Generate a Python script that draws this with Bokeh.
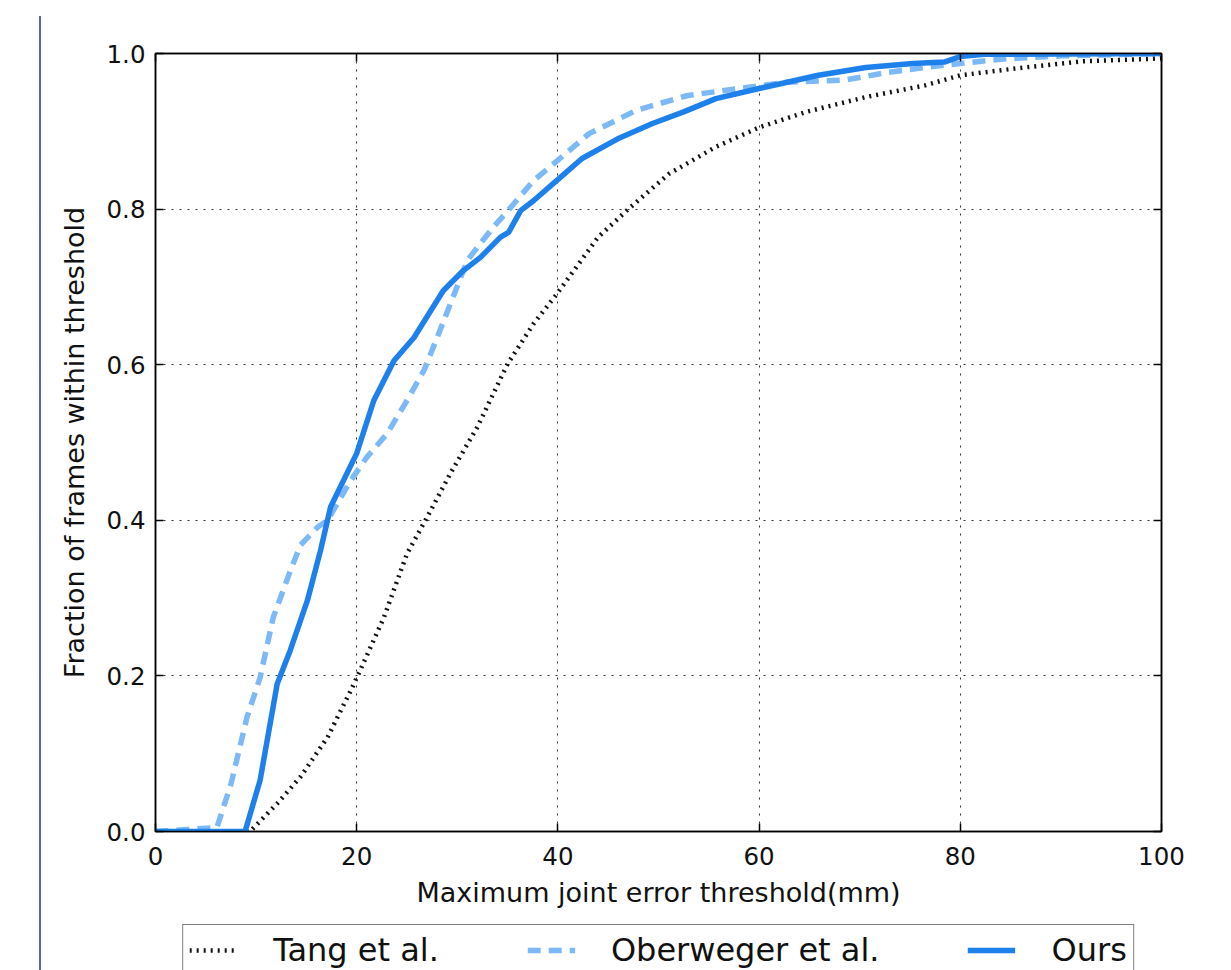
from bokeh.plotting import figure
from bokeh.models import (Legend, LegendItem, FixedTicker, LinearAxis, Div,
                          PrintfTickFormatter, CustomJSTickFormatter, Range1d)
from bokeh.layouts import row, column
from bokeh.embed import file_html
from bokeh.resources import INLINE

# ---- data ----
tang_x = [0, 9.4, 12.1, 14.4, 17.1, 19.4, 20.2, 22.7, 25.0, 27.0, 29.3, 32.0, 35.0,
          37.6, 39.9, 44.0, 47.0, 51.0, 55.7, 60.0, 64.7, 70.6, 76.5, 80.0, 86.3,
          92.2, 98.8, 100]
tang_y = [0, 0, 0.036, 0.07, 0.121, 0.181, 0.203, 0.275, 0.357, 0.404, 0.460, 0.520,
          0.601, 0.653, 0.691, 0.764, 0.800, 0.845, 0.880, 0.905, 0.925, 0.944,
          0.959, 0.972, 0.982, 0.990, 0.993, 0.994]

obe_x = [0, 6.1, 7.5, 9.1, 10.4, 11.7, 13.4, 14.4, 16.1, 17.1, 19.4, 21.0, 23.0,
         25.0, 26.7, 28.0, 29.7, 31.0, 32.0, 33.6, 35.3, 37.6, 39.2, 43.1, 47.8,
         52.9, 58.0, 62.7, 68.6, 72.9, 78.4, 84.3, 90.2, 100]
obe_y = [0, 0.005, 0.061, 0.147, 0.198, 0.275, 0.335, 0.368, 0.391, 0.40, 0.451,
         0.481, 0.511, 0.554, 0.593, 0.635, 0.691, 0.734, 0.751, 0.777, 0.802,
         0.837, 0.854, 0.897, 0.927, 0.946, 0.955, 0.963, 0.966, 0.976, 0.985,
         0.993, 0.997, 1.0]

ours_x = [0, 8.9, 10.4, 12.1, 13.4, 15.1, 16.4, 17.4, 20.0, 21.7, 23.7, 25.7, 28.6,
          30.6, 32.3, 34.3, 35.1, 36.3, 37.6, 39.9, 42.4, 45.9, 49.4, 52.5, 55.7,
          60.0, 65.9, 70.6, 75.3, 78.4, 80.0, 82.4, 100]
ours_y = [0, 0, 0.066, 0.19, 0.233, 0.297, 0.361, 0.417, 0.486, 0.554, 0.605, 0.635,
          0.695, 0.721, 0.738, 0.764, 0.770, 0.798, 0.811, 0.837, 0.865, 0.890,
          0.910, 0.925, 0.942, 0.955, 0.972, 0.982, 0.987, 0.989, 0.996, 0.999, 1.0]

x_ticks = [0, 20, 40, 60, 80, 100]
y_ticks = [0.0, 0.2, 0.4, 0.6, 0.8, 1.0]
series_labels = ["Tang et al.", "Oberweger et al.", "Ours"]

FONT = "DejaVu Sans"
STYLES = [dict(line_color="#111111", line_width=4.5, line_dash="2 5"),
          dict(line_color="#7db9f6", line_width=5.5, line_dash="13 8"),
          dict(line_color="#1e80ea", line_width=5.5, line_join="round")]
SERIES = [(tang_x, tang_y), (obe_x, obe_y), (ours_x, ours_y)]

p = figure(frame_width=1006, frame_height=778,
           x_range=Range1d(0, 100), y_range=Range1d(0, 1),
           output_backend="svg", toolbar_location=None,
           min_border_left=114, min_border_top=53, min_border_right=40,
           min_border_bottom=93)
p.background_fill_color = "white"
p.border_fill_color = "white"
p.outline_line_color = "black"
p.outline_line_width = 1.5

for (xs, ys), st in zip(SERIES, STYLES):
    p.line(xs, ys, **st)

# axes
for ax in (p.xaxis[0], p.yaxis[0]):
    ax.major_label_text_font = FONT
    ax.major_label_text_font_size = "24.5px"
    ax.major_label_text_color = "#111111"
    ax.axis_label_text_font = FONT
    ax.axis_label_text_font_size = "27px"
    ax.axis_label_text_font_style = "normal"
    ax.axis_label_text_color = "#111111"
    ax.axis_line_color = "black"
    ax.axis_line_width = 1.5
    ax.major_tick_in = 8
    ax.major_tick_out = 0
    ax.major_tick_line_color = "black"
    ax.major_tick_line_width = 1.5
    ax.minor_tick_line_color = None

p.xaxis[0].ticker = FixedTicker(ticks=x_ticks)
p.yaxis[0].ticker = FixedTicker(ticks=y_ticks)
p.yaxis[0].formatter = PrintfTickFormatter(format="%.1f")
p.xaxis[0].axis_label = "Maximum joint error threshold(mm)"
p.yaxis[0].axis_label = "Fraction of frames within threshold"
p.xaxis[0].major_label_standoff = 15
p.yaxis[0].major_label_standoff = 10
p.xaxis[0].axis_label_standoff = 9
p.yaxis[0].axis_label_standoff = 14

# top / right tick-only axes
blank = CustomJSTickFormatter(code="return ''")
top = LinearAxis(ticker=FixedTicker(ticks=x_ticks), formatter=blank)
right = LinearAxis(ticker=FixedTicker(ticks=y_ticks), formatter=blank)
for ax in (top, right):
    ax.major_tick_in = 8
    ax.major_tick_out = 0
    ax.major_tick_line_width = 1.5
    ax.major_tick_line_color = "black"
    ax.minor_tick_line_color = None
    ax.axis_line_color = "black"
    ax.axis_line_width = 1.5
    ax.major_label_text_font_size = "1px"
    ax.major_label_standoff = 0
p.add_layout(top, "above")
p.add_layout(right, "right")

# grid
p.xgrid.ticker = FixedTicker(ticks=x_ticks)
p.ygrid.ticker = FixedTicker(ticks=y_ticks)
for g in (p.xgrid, p.ygrid):
    g.grid_line_color = "#333333"
    g.grid_line_width = 1
    g.grid_line_dash = "2 6"

# legend strip below the chart (series drawn outside its visible y range)
lg = figure(frame_width=1006, frame_height=46,
            x_range=Range1d(0, 100), y_range=Range1d(5, 6),
            output_backend="svg", toolbar_location=None,
            x_axis_location=None, y_axis_location=None,
            min_border_left=114, min_border_right=40,
            min_border_top=0, min_border_bottom=0)
lg.outline_line_color = None
lg.xgrid.visible = False
lg.ygrid.visible = False
lg_renderers = [lg.line(xs, ys, **st) for (xs, ys), st in zip(SERIES, STYLES)]

legend = Legend(items=[LegendItem(label=lab, renderers=[r])
                       for lab, r in zip(series_labels, lg_renderers)],
                orientation="horizontal", location="top_center")
legend.label_text_font = FONT
legend.label_text_font_size = "32px"
legend.label_text_color = "#111111"
legend.glyph_width = 48
legend.label_standoff = 36
legend.spacing = 88
legend.padding = 6
legend.margin = 0
legend.border_line_color = "black"
legend.border_line_width = 1.5
lg.add_layout(legend, "center")

div = Div(width=41, height=954, margin=(16, 0, 0, 0),
          styles={"border-right": "2px solid #5a62c6"})

layout = row(div, column(p, lg))
open("out.html", "w").write(file_html(layout, INLINE))
